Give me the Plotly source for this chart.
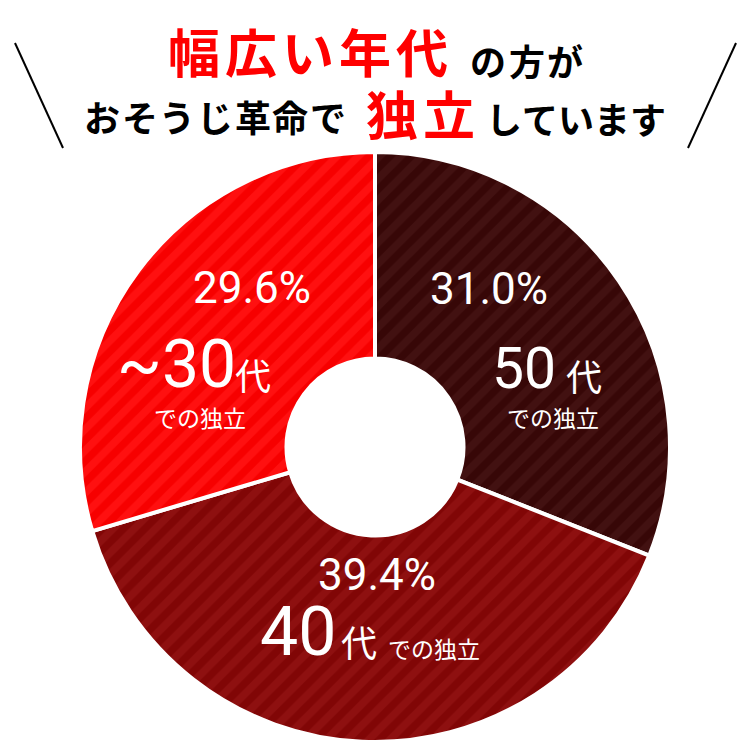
import plotly.graph_objects as go

# ---- data ----
ages = ["50代", "40代", "~30代"]
age_num = ["50", "40", "~30"]
shares = [31.0, 39.4, 29.6]
pct_labels = ["31.0%", "39.4%", "29.6%"]
sub_label = "での独立"
title_red_1 = "幅広い年代"
title_blk_1 = "の方が"
title_blk_2a = "おそうじ革命で"
title_red_2 = "独立"
title_blk_2b = "しています"

# ---- styles ----
OFF = 8                      # default page margin of the html body
W = H = 751 - OFF
bg_cols = ["#421111", "#8e1010", "#ff1010"]
fg_cols = ["#370707", "#810606", "#f70000"]
LAT = "Roboto, 'Noto Sans CJK JP', sans-serif"
CJK = "'Noto Sans CJK JP', sans-serif"

cx, cy, R = 375, 447, 295    # target position on the 751px page

def px(x):
    return (x - OFF) / W

def py(y):
    return 1 - (y - OFF) / H

fig = go.Figure(go.Pie(
    labels=ages, values=shares, sort=False, direction="clockwise", rotation=0,
    hole=0.30, textinfo="none", hoverinfo="skip", showlegend=False,
    marker=dict(colors=bg_cols, line=dict(color="white", width=4),
                pattern=dict(shape=["/", "/", "/"], bgcolor=bg_cols, fgcolor=fg_cols,
                             size=15, solidity=0.5, fillmode="replace")),
    domain=dict(x=[px(cx - R), px(cx + R)], y=[py(cy + R), py(cy - R)]),
))

ann = []
def add(text, x, y, size, color="white", family=LAT, weight="normal"):
    ann.append(dict(text=text, x=px(x), y=py(y), xref="paper", yref="paper",
                    xanchor="center", yanchor="middle", showarrow=False,
                    font=dict(size=size, color=color, family=family, weight=weight)))

def add_spaced(text, x0, x1, y, size, color):
    pitch = (x1 - x0) / len(text)
    for i, ch in enumerate(text):
        add(ch, x0 + pitch * (i + 0.5), y, size, color=color, family=CJK, weight="bold")

# slice text layout per slice
layout_pos = [
    dict(pct=(489, 289), num=(524, 368, 57), dai=(584, 375), sub=(553, 417)),
    dict(pct=(377, 575), num=(298, 632, 68), dai=(359, 641), sub=(434, 648)),
    dict(pct=(252, 288), num=(176, 364, 66), dai=(253, 374), sub=(200, 417)),
]
for i in range(3):
    p = layout_pos[i]
    add(pct_labels[i], p["pct"][0], p["pct"][1], 44)
    add(age_num[i], p["num"][0], p["num"][1], p["num"][2])
    add(ages[i][-1], p["dai"][0], p["dai"][1], 36, family=CJK)
    add(sub_label, p["sub"][0], p["sub"][1], 23, family=CJK)

# title
add_spaced(title_red_1, 165, 451, 51, 52, "#ff0000")
add_spaced(title_blk_1, 469, 584, 60, 36, "#000000")
add_spaced(title_blk_2a, 83, 347, 116, 36, "#000000")
add_spaced(title_red_2, 363, 478, 112, 52, "#ff0000")
add_spaced(title_blk_2b, 486, 666, 118, 36, "#000000")

shapes = [
    dict(type="line", xref="paper", yref="paper", x0=px(15), y0=py(43), x1=px(63), y1=py(148),
         line=dict(color="black", width=2)),
    dict(type="line", xref="paper", yref="paper", x0=px(736), y0=py(43), x1=px(688), y1=py(148),
         line=dict(color="black", width=2)),
]

fig.update_layout(width=W, height=H, margin=dict(l=0, r=0, t=0, b=0),
                  paper_bgcolor="white", plot_bgcolor="white",
                  annotations=ann, shapes=shapes)
fig.write_html("out.html")
